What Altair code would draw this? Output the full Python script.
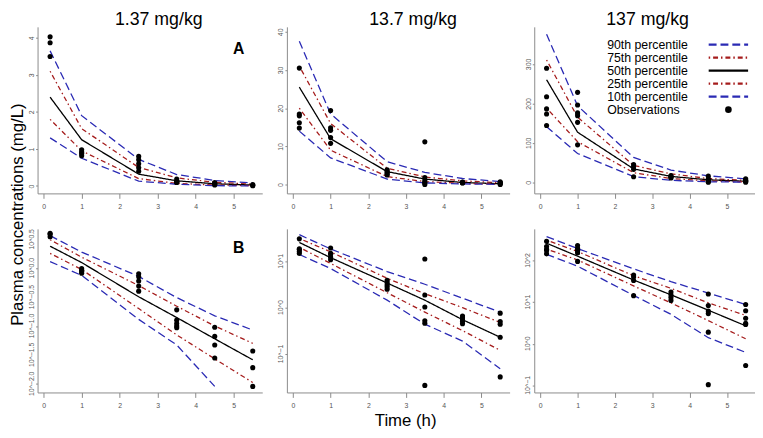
import altair as alt
import pandas as pd
import numpy as np

# ---------------- data ----------------
TIMES = [0.17, 1.0, 2.5, 3.5, 4.5, 5.5]
DOSES = ["1.37 mg/kg", "13.7 mg/kg", "137 mg/kg"]
PCT_NAMES = ["90th percentile", "75th percentile", "50th percentile",
             "25th percentile", "10th percentile"]

# simulated percentiles, dose 1.37 mg/kg
D1_P90 = [3.65, 1.9, 0.72, 0.31, 0.15, 0.085]
D1_P75 = [3.1, 1.55, 0.5, 0.22, 0.10, 0.05]
D1_P50 = [2.4, 1.25, 0.32, 0.14, 0.06, 0.026]
D1_P25 = [1.8, 0.95, 0.2, 0.07, 0.027, 0.0105]
D1_P10 = [1.3, 0.75, 0.13, 0.047, 0.009, 0.0]

# dose 13.7 mg/kg
D2_P90 = [37.5, 18.5, 6.0, 3.2, 1.6, 0.8]
D2_P75 = [31.0, 16.0, 4.3, 2.0, 1.0, 0.48]
D2_P50 = [25.5, 12.0, 3.4, 1.45, 0.55, 0.23]
D2_P25 = [20.0, 9.0, 2.1, 0.8, 0.32, 0.12]
D2_P10 = [14.0, 7.0, 1.45, 0.44, 0.19, 0.048]

# dose 137 mg/kg
D3_P90 = [375, 194, 63, 31, 16.5, 8.8]
D3_P75 = [310, 165, 43, 21.5, 9.6, 4.8]
D3_P50 = [260, 127, 34, 15, 6.4, 2.7]
D3_P25 = [188, 103, 24.5, 9.6, 3.6, 1.32]
D3_P10 = [141, 73, 14.5, 5.1, 1.4, 0.62]

# observations
D1_OBS_T = [0.17, 0.17, 0.17, 1, 1, 1, 1, 2.5, 2.5, 2.5, 2.5, 2.5,
            3.5, 3.5, 3.5, 3.5, 3.5, 4.5, 4.5, 4.5, 4.5, 5.5, 5.5, 5.5]
D1_OBS_C = [4.03, 3.87, 3.5, 0.98, 0.92, 0.88, 0.82, 0.8, 0.71, 0.6, 0.49, 0.4,
            0.19, 0.126, 0.11, 0.10, 0.093, 0.095, 0.066, 0.047, 0.028, 0.037, 0.019, 0.009]

D2_OBS_T = [0.17, 0.17, 0.17, 0.17, 0.17, 1, 1, 1, 1, 1, 2.5, 2.5, 2.5, 2.5, 2.5,
            3.5, 3.5, 3.5, 3.5, 3.5, 3.5, 4.5, 4.5, 4.5, 4.5, 4.5, 5.5, 5.5, 5.5, 5.5, 5.5]
D2_OBS_C = [30.5, 18.5, 18.0, 16.2, 14.8, 19.4, 14.9, 14.2, 12.3, 10.8, 3.9, 3.5, 3.1, 2.8, 2.5,
            11.2, 1.87, 1.03, 0.52, 0.46, 0.021, 0.66, 0.6, 0.55, 0.5, 0.45, 0.76, 0.5, 0.44, 0.23, 0.032]

D3_OBS_T = [0.17, 0.17, 0.17, 0.17, 0.17, 1, 1, 1, 1, 1, 1, 2.5, 2.5, 2.5, 2.5,
            3.5, 3.5, 3.5, 3.5, 4.5, 4.5, 4.5, 4.5, 4.5, 4.5, 5.5, 5.5, 5.5, 5.5, 5.5, 5.5]
D3_OBS_C = [289, 217, 186, 173, 144, 228, 196, 176, 169, 152, 95, 45, 40, 33, 14.3,
            17.4, 15, 13, 11, 15.7, 8.3, 6.1, 5.3, 1.9, 0.104, 8.8, 6.2, 4.1, 3.1, 2.9, 0.3]

PCTS = [[D1_P90, D1_P75, D1_P50, D1_P25, D1_P10],
        [D2_P90, D2_P75, D2_P50, D2_P25, D2_P10],
        [D3_P90, D3_P75, D3_P50, D3_P25, D3_P10]]
OBS = [(D1_OBS_T, D1_OBS_C), (D2_OBS_T, D2_OBS_C), (D3_OBS_T, D3_OBS_C)]

LIN_DOMAIN = [[-0.2, 4.3], [-2.3, 41.3], [-28, 394]]
LIN_TICKS = [[0, 1, 2, 3, 4], [0, 10, 20, 30, 40], [0, 100, 200, 300]]
# log panels (values are log10 of concentration)
LOG_DOMAIN = [[-2.15, 0.68], [-1.83, 1.70], [-1.17, 2.76]]
LOG_TICKS = [[-2.0, -1.5, -1.0, -0.5, 0.0, 0.5], [-1, 0, 1], [-1, 0, 1, 2]]
LOG_FMT = [".1f", "d", "d"]

# ---------------- style ----------------
FONT = "Liberation Sans"
BLUE = "#2a2ab4"
RED = "#a51c1c"
LABEL_GREY = "#555555"
TICK_FS = 7
WIDTHS = [228, 226, 224]
HEIGHTS = [169, 166]
XDOM = [-0.16, 5.75]
TITLE_DX = [9, 15, 3]

color_scale = alt.Scale(domain=PCT_NAMES, range=[BLUE, RED, "black", RED, BLUE])
dash_scale = alt.Scale(domain=PCT_NAMES,
                       range=[[8, 4], [1.5, 3, 5, 3], [1, 0], [1.5, 3, 5, 3], [8, 4]])
width_scale = alt.Scale(domain=PCT_NAMES, range=[1.3, 1.3, 1.8, 1.3, 1.3])


def build_frames(ci, log):
    rows = []
    for name, vals in zip(PCT_NAMES, PCTS[ci]):
        for t, c in zip(TIMES, vals):
            rows.append({"time": t, "pct": name, "c": c})
    ld = pd.DataFrame(rows)
    od = pd.DataFrame({"time": OBS[ci][0], "c": OBS[ci][1]})
    for df in (ld, od):
        if log:
            df["v"] = np.where(df["c"] > 0, np.log10(df["c"].clip(lower=1e-12)), np.nan)
        else:
            df["v"] = df["c"]
    return ld.dropna(), od.dropna()


def make_panel(ci, log):
    ld, od = build_frames(ci, log)
    xenc = alt.X("time:Q",
                 scale=alt.Scale(domain=XDOM, nice=False, zero=False),
                 axis=alt.Axis(values=[0, 1, 2, 3, 4, 5], format="d", grid=False,
                               tickSize=5, labelPadding=4,
                               title=("Time (h)" if (log and ci == 1) else None),
                               titleX=120, titleY=29, titleFontSize=17,
                               titleFont=FONT, titleFontWeight="normal",
                               titleBaseline="middle", titleColor="black"))
    if log:
        dom = LOG_DOMAIN[ci]
        yaxis = alt.Axis(values=LOG_TICKS[ci], labels=False, grid=False,
                         tickSize=2, title=None)
    else:
        dom = LIN_DOMAIN[ci]
        ytitle = "Plasma concentrations (mg/L)" if ci == 0 else None
        yaxis = alt.Axis(values=LIN_TICKS[ci], format="d", grid=False,
                         labelAngle=270, labelAlign="center", labelBaseline="bottom",
                         labelOverlap=False, tickSize=2, labelPadding=1,
                         title=ytitle, titleX=-20, titleY=190, titleAngle=270,
                         titleFontSize=17, titleFont=FONT, titleFontWeight="normal",
                         titleBaseline="middle", titleAlign="center", titleColor="black")
    yenc = alt.Y("v:Q", scale=alt.Scale(domain=dom, nice=False, zero=False), axis=yaxis)

    lines = alt.Chart(ld).mark_line(clip=True).encode(
        x=xenc, y=yenc,
        color=alt.Color("pct:N", scale=color_scale, legend=None),
        strokeDash=alt.StrokeDash("pct:N", scale=dash_scale, legend=None),
        strokeWidth=alt.StrokeWidth("pct:N", scale=width_scale, legend=None),
        detail="pct:N",
    )
    points = alt.Chart(od).mark_circle(size=27, color="black", opacity=1).encode(
        x=alt.X("time:Q"), y=alt.Y("v:Q"))
    layers = [lines, points]
    if log:
        # "10^x" tick labels placed through the y scale
        tk = pd.DataFrame({"v": LOG_TICKS[ci]})
        layers.append(
            alt.Chart(tk).transform_calculate(
                lab="'10^' + format(datum.v, '%s')" % LOG_FMT[ci]
            ).mark_text(font=FONT, fontSize=TICK_FS, color=LABEL_GREY, angle=270,
                        align="center", baseline="bottom").encode(
                x=alt.value(-3), y=alt.Y("v:Q"), text="lab:N"))
    if ci == 0:
        lab = "B" if log else "A"
        layers.append(
            alt.Chart(pd.DataFrame({"lab": [lab]})).mark_text(
                font=FONT, fontSize=16, fontWeight="bold", color="black",
                align="center", baseline="middle").encode(
                text="lab:N", x=alt.value(204), y=alt.value(19 if log else 23)))
    panel = alt.layer(*layers)

    if ci == 2 and not log:
        leg = pd.DataFrame({"i": list(range(6)),
                            "label": PCT_NAMES + ["Observations"],
                            "pct": PCT_NAMES + ["Observations"]})
        ly = alt.Y("i:Q", scale=alt.Scale(domain=[0, 5], range=[18, 84]), axis=None)
        ltext = alt.Chart(leg).mark_text(font=FONT, fontSize=12.5, align="left",
                                         baseline="middle", color="black").encode(
            x=alt.value(74), y=ly, text="label:N")
        lrule = alt.Chart(leg).transform_filter(alt.datum.i < 5).mark_rule(strokeWidth=2.2).encode(
            x=alt.value(177), x2=alt.value(217), y=ly,
            color=alt.Color("pct:N", scale=color_scale, legend=None),
            strokeDash=alt.StrokeDash("pct:N", scale=dash_scale, legend=None))
        ldot = alt.Chart(leg).transform_filter(alt.datum.i == 5).mark_circle(
            size=45, color="black", opacity=1).encode(x=alt.value(197), y=ly)
        panel = alt.layer(panel, alt.layer(ltext, lrule, ldot)).resolve_scale(y="independent")

    props = dict(width=WIDTHS[ci], height=HEIGHTS[1 if log else 0])
    if not log:
        props["title"] = alt.TitleParams(DOSES[ci], font=FONT, fontSize=18,
                                         fontWeight="normal", color="black",
                                         anchor="middle", dx=TITLE_DX[ci], offset=-2)
    return panel.properties(**props)


panels = [make_panel(i, False) for i in range(3)] + [make_panel(i, True) for i in range(3)]

chart = alt.concat(*panels, columns=3, spacing={"row": 36, "column": 25},
                   bounds="flush", padding=0).configure_view(stroke=None).configure_axis(
    domainColor="#8a8a8a", tickColor="#8a8a8a", labelColor=LABEL_GREY,
    labelFont=FONT, labelFontSize=TICK_FS, domainWidth=1)

chart.save("out.html", embed_options={"renderer": "svg", "actions": False})
